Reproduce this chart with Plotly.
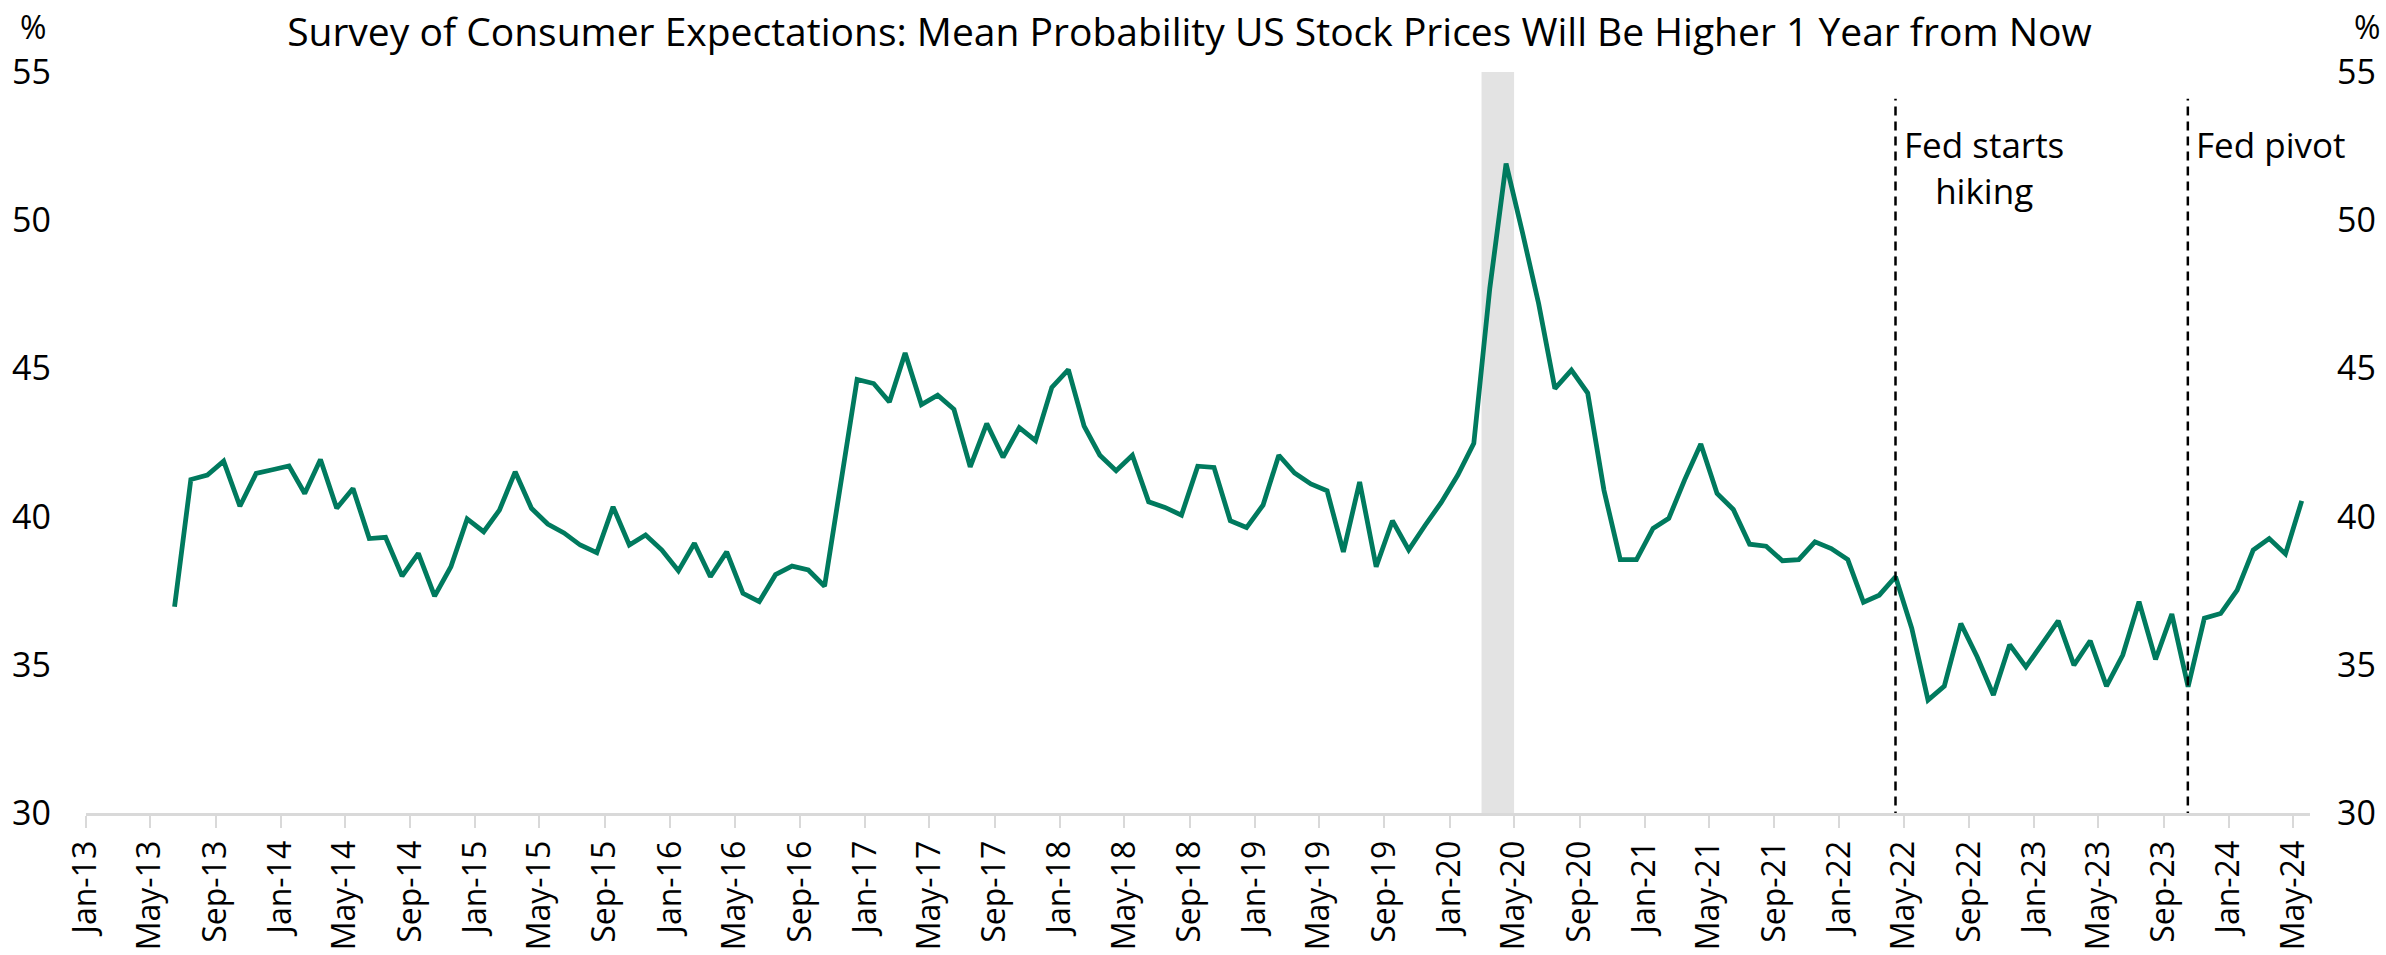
import pandas as pd
import plotly.graph_objects as go

# ---- data -------------------------------------------------------------
start_month = "2013-06-01"
prob_higher = [
    36.96, 41.25, 41.4, 41.87, 40.35, 41.46, 41.58, 41.71, 40.78, 41.93,
    40.28, 40.95, 39.26, 39.30, 37.99, 38.76, 37.32, 38.31, 39.92, 39.49,
    40.22, 41.51, 40.28, 39.75, 39.45, 39.04, 38.78, 40.33, 39.04, 39.38,
    38.87, 38.17, 39.10, 37.97, 38.81, 37.41, 37.13, 38.04, 38.33, 38.2,
    37.65, 41.1, 44.63, 44.49, 43.87, 45.52, 43.78, 44.10, 43.62, 41.68,
    43.14, 42.0, 43.0, 42.56, 44.36, 44.96, 43.05, 42.07, 41.55, 42.07,
    40.50, 40.31, 40.05, 41.70, 41.66, 39.86, 39.63, 40.39, 42.07, 41.47,
    41.10, 40.87, 38.81, 41.17, 38.31, 39.86, 38.88, 39.70, 40.48, 41.40,
    42.47, 47.70, 51.91, 49.6, 47.19, 44.32, 44.94, 44.17, 40.89, 38.55,
    38.55, 39.60, 39.94, 41.23, 42.45, 40.78, 40.24, 39.07, 39.0, 38.51,
    38.55, 39.15, 38.92, 38.55, 37.11, 37.35, 37.97, 36.23, 33.81, 34.28,
    36.39, 35.27, 33.98, 35.68, 34.93, 35.72, 36.48, 34.99, 35.81, 34.28,
    35.33, 37.13, 35.18, 36.71, 34.26, 36.57, 36.73, 37.52, 38.87, 39.26,
    38.74, 40.53,
]
months = pd.date_range(start_month, periods=len(prob_higher), freq="MS")

recession = ("2020-03-01", "2020-05-01")
event_dates = ["2022-04-16", "2023-10-16"]
event_labels = ["Fed starts<br>hiking", "Fed pivot"]
title = "Survey of Consumer Expectations: Mean Probability US Stock Prices Will Be Higher 1 Year from Now"
y_range = [30, 55]
y_ticks = [30, 35, 40, 45, 50, 55]
x_range = ["2013-01-01", "2024-06-01"]

# ---- figure -----------------------------------------------------------
FONT = "Open Sans"
GREEN = "#007A5E"
W, H = 2386, 955
ML, MR, MT, MB = 86, 76, 72, 142

fig = go.Figure()
fig.add_trace(go.Scatter(
    x=months, y=prob_higher, mode="lines",
    xperiod="M1", xperiodalignment="middle",
    line=dict(color=GREEN, width=4.8), hoverinfo="x+y", showlegend=False,
))
# twin for right-hand axis
fig.add_trace(go.Scatter(
    x=months, y=prob_higher, mode="lines", yaxis="y2",
    xperiod="M1", xperiodalignment="middle",
    line=dict(color="rgba(0,0,0,0)", width=0), hoverinfo="skip", showlegend=False,
))

fig.add_shape(type="rect", xref="x", yref="y", x0=recession[0], x1=recession[1],
              y0=y_range[0], y1=y_range[1], fillcolor="#e3e3e3",
              line=dict(width=0), layer="below")

for d, label in zip(event_dates, event_labels):
    fig.add_shape(type="line", xref="x", yref="y", x0=d, x1=d, y0=29.75, y1=54.1,
                  line=dict(color="black", width=2.5, dash="9px,6px"))
    fig.add_annotation(x=d, y=53.4, xref="x", yref="y", text=label,
                       showarrow=False, xanchor="left", yanchor="top",
                       align="center", xshift=6,
                       font=dict(family=FONT, size=35, color="black"))

xfont = dict(family=FONT, size=32, color="black")
yfont = dict(family=FONT, size=34, color="black")
fig.update_layout(
    width=W, height=H,
    paper_bgcolor="white", plot_bgcolor="white",
    margin=dict(l=ML, r=MR, t=MT, b=MB, autoexpand=False),
    title=dict(text=title, x=0.4985, xanchor="center", y=1 - 32 / H,
               yanchor="middle", yref="container",
               font=dict(family=FONT, size=39, color="black")),
    xaxis=dict(type="date", range=x_range, tick0="2013-01-01", dtick="M4",
               tickformat="%b-%y", tickangle=-90, showgrid=False,
               showline=True, linecolor="#d9d9d9", linewidth=3,
               ticks="outside", ticklen=12, tickwidth=2, tickcolor="#d9d9d9",
               tickfont=xfont, zeroline=False, automargin=False),
    yaxis=dict(range=y_range, tickvals=y_ticks, showgrid=False, zeroline=False,
               showline=False, ticks="", tickfont=yfont,
               ticklabelstandoff=34, automargin=False),
    yaxis2=dict(range=y_range, tickvals=y_ticks, overlaying="y", side="right",
                showgrid=False, zeroline=False, showline=False, ticks="",
                tickfont=yfont, ticklabelstandoff=26, automargin=False),
)
for xpx in (33, 2367):
    fig.add_annotation(text="%", xref="paper", yref="paper",
                       x=(xpx - ML) / (W - ML - MR), y=1 + (MT - 26) / (H - MT - MB),
                       xanchor="center", yanchor="middle", showarrow=False,
                       font=dict(family=FONT, size=32, color="black"))

fig.write_html("out.html", config={"displayModeBar": False},
               post_script="document.body.style.margin='0';document.body.style.padding='0';")
